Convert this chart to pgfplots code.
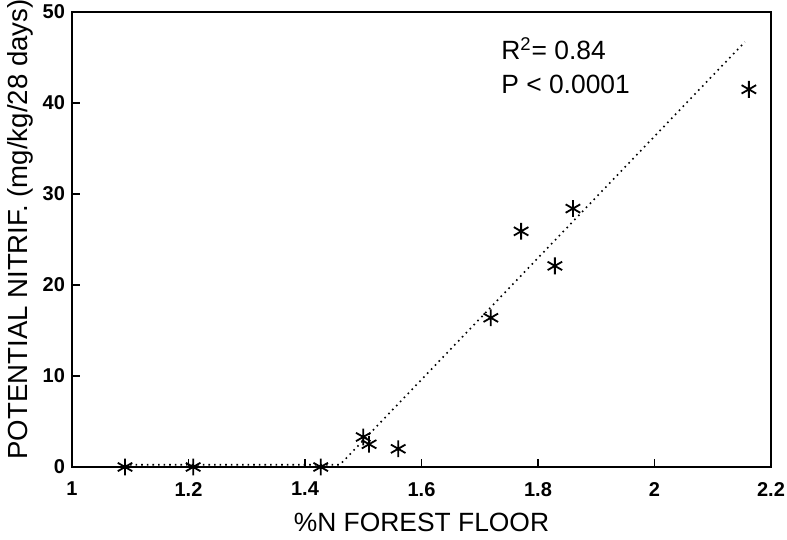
\documentclass[border=0pt]{standalone}
\usepackage{pgfplots}
\pgfplotsset{compat=1.18}
\usepackage{fontspec}
\setmainfont{Liberation Sans}

\begin{document}
\begin{tikzpicture}
% fixed page box so the proportions follow the 787x540 reference
\useasboundingbox (-36pt,-36.5pt) rectangle (357.5pt,233.5pt);
\begin{axis}[
    at={(0,0)}, anchor=south west,
    scale only axis,
    width=349.5pt, height=227.5pt,
    xmin=1, xmax=2.2,
    ymin=0, ymax=50,
    xtick={1,1.2,...,2.2},
    xticklabels={1,1.2,1.4,1.6,1.8,2,2.2},
    ytick={0,10,...,50},
    xtick pos=bottom, ytick pos=left,
    tick align=inside,
    major tick length=4pt,
    axis line style={line width=0.8pt},
    tick style={line width=0.8pt, black},
    /pgf/number format/assume math mode=true,
    ticklabel style={font=\fontsize{10}{12}\selectfont\bfseries},
    xticklabel style={yshift=-4pt},
    xlabel={\%N FOREST FLOOR},
    ylabel={POTENTIAL NITRIF. (mg/kg/28 days)},
    xlabel style={font=\fontsize{13.2}{15}\selectfont,
        at={(axis description cs:0.5,-0.121)}, anchor=center},
    ylabel style={font=\fontsize{13.8}{15}\selectfont,
        at={(axis description cs:-0.0744,0.522)}, anchor=center},
    clip=false,
]

% regression line
\addplot[black, dotted, line width=0.8pt] coordinates {
    (1.09,0.25) (1.46,0.25) (2.155,46.7)
};

% observations
\addplot[only marks, mark=asterisk, mark size=4.2pt,
    mark options={line width=0.9pt, black}] table {
x     y
1.091 0
1.208 0
1.427 0
1.500 3.3
1.510 2.5
1.560 2.0
1.719 16.4
1.771 25.9
1.829 22.1
1.860 28.4
2.162 41.5
};

\node[anchor=west, font=\fontsize{13.2}{15}\selectfont] at (axis cs:1.725,46.0) {R\textsuperscript{2}= 0.84};
\node[anchor=west, font=\fontsize{13.2}{15}\selectfont] at (axis cs:1.725,42.0) {P < 0.0001};
\end{axis}
\end{tikzpicture}
\end{document}
